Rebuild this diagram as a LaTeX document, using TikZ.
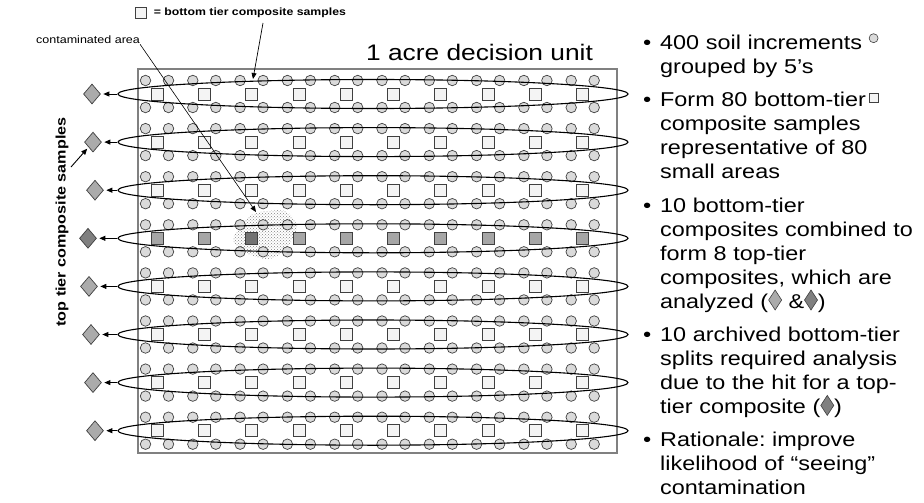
\documentclass[tikz,border=0pt]{standalone}
\usepackage{fontspec}
\setmainfont{Liberation Sans}[FakeStretch=1.17]
\usepackage{tikz}
\usetikzlibrary{arrows.meta,positioning,shapes.geometric,patterns}
\frenchspacing

\definecolor{incrfill}{HTML}{DADADA}
\definecolor{compfill}{HTML}{F4F4F4}
\definecolor{hitfill}{HTML}{A6A6A6}
\definecolor{hotfill}{HTML}{737373}
\definecolor{topfill}{HTML}{ABABAB}
\definecolor{topdark}{HTML}{808080}
\definecolor{edge}{HTML}{404040}

% small symbols used inside the bullet text
\newcommand{\incrsym}{\tikz[baseline=-11pt]\draw[edge,fill=incrfill,line width=0.6pt] (0pt,0pt) circle (4.5pt);}
\newcommand{\compsym}{\tikz[baseline=-8.5pt]\draw[edge,fill=compfill,line width=0.6pt] (-4.5pt,-4.5pt) rectangle (4.5pt,4.5pt);}
\newcommand{\topsym}[1]{\tikz[baseline=-8pt]\draw[edge,fill=#1,line width=0.6pt] (0pt,10pt) -- (6.5pt,0pt) -- (0pt,-10pt) -- (-6.5pt,0pt) -- cycle;}

\begin{document}
\begin{tikzpicture}[x=1pt, y=-1pt, >={Triangle[length=6pt,width=5pt]}]
\tikzstyle{incr}=[circle,draw=edge,fill=incrfill,line width=0.7pt,minimum size=10.5pt,inner sep=0pt]
\tikzstyle{comp}=[rectangle,draw=edge,line width=0.7pt,minimum size=12pt,inner sep=0pt]
\tikzstyle{tcomp}=[diamond,draw=edge,line width=0.7pt,minimum width=17pt,minimum height=20pt,inner sep=0pt]
\tikzstyle{band}=[ellipse,draw=black,line width=1.1pt,minimum width=510pt,minimum height=29pt,inner sep=0pt]
\tikzstyle{item}=[anchor=north west,inner sep=0pt,text width=280pt,align=left,font=\fontsize{20}{24}\selectfont]
\useasboundingbox (0,0) rectangle (924,503);

% decision unit
\draw[gray,line width=1.2pt] (138,69) rectangle (617,453);
\node[anchor=base,font=\fontsize{22.5}{26}\selectfont] (unit) at (479.5,60) {1 acre decision unit};

% contaminated area
\fill[pattern=crosshatch dots,pattern color=gray] plot[smooth cycle] coordinates {(256,213) (285,211) (297,228) (284,251) (268,259) (246,253) (233,240) (243,223)};

% increments and bottom-tier composites
\foreach \r in {0,...,7}{
  \foreach \c in {0,...,9}{
    \pgfmathsetmacro\xc{157+47.3*\c}
    \pgfmathsetmacro\yc{94+48.1*\r}
    \foreach \dx/\dy/\k in {-11.5/-13.5/1,11.5/-13.5/2,-11.5/13.5/3,11.5/13.5/4}
      \node[incr] (i-\r-\c-\k) at (\xc+\dx,\yc+\dy) {};
    \ifnum\r=3 \def\cf{hitfill}\ifnum\c=2 \def\cf{hotfill}\fi\else\def\cf{compfill}\fi
    \node[comp,fill=\cf] (c-\r-\c) at (\xc,\yc) {};
  }
}

% top-tier composites
\foreach \r/\tx in {0/92,1/93,2/95,3/88,4/89,5/91,6/93,7/95}{
  \pgfmathsetmacro\yc{94+48.1*\r}
  \ifnum\r=3 \def\tf{topdark}\else\def\tf{topfill}\fi
  \node[band] (b\r) at (373,\yc) {};
  \node[tcomp,fill=\tf] (t\r) at (\tx,\yc) {};
  \draw[->,line width=0.8pt,shorten >=2.5pt] (b\r.west) -- (t\r.east);
}

% legend and labels
\node[comp,fill=compfill,minimum size=10.5pt] (legsq) at (141,13) {};
\node[right=7pt of legsq,inner sep=0pt,font=\fontsize{10.5}{12}\bfseries\selectfont] (legtxt) {= bottom tier composite samples};
\coordinate (legtail) at (263,23);
\coordinate (legtip) at (253,79);
\draw[->,line width=0.7pt] (legtail) -- (legtip);

\node[anchor=base west,inner sep=0pt,font=\fontsize{10.7}{12}\selectfont] (cont) at (36,44) {contaminated area};
\coordinate (hit) at (256,212);
\draw[->,line width=0.6pt] (cont.south east) -- (hit);

\node[rotate=90,font=\fontsize{13.8}{16}\bfseries\selectfont] (toplab) at (62,222) {top tier composite samples};
\coordinate (toptail) at (71,167);
\draw[->,line width=0.9pt,shorten >=2pt] (toptail) -- (t1);

% bullet text
\node[item] (p1) at (660,32.2) {\strut\llap{\textbullet\hspace{9pt}}400 soil increments \incrsym\\grouped by 5’s\strut};
\node[item,below=9pt of p1] (p2) {\strut\llap{\textbullet\hspace{9pt}}Form 80 bottom-tier\,\compsym\\composite samples\\representative of 80\\small areas\strut};
\node[item,below=9pt of p2] (p3) {\strut\llap{\textbullet\hspace{9pt}}10 bottom-tier\\composites combined to\\form 8 top-tier\\composites, which are\\analyzed (\topsym{topfill} \&\topsym{topdark})\strut};
\node[item,below=9pt of p3] (p4) {\strut\llap{\textbullet\hspace{9pt}}10 archived bottom-tier\\splits required analysis\\due to the hit for a top-\\tier composite (\topsym{topdark})\strut};
\node[item,below=9pt of p4] (p5) {\strut\llap{\textbullet\hspace{9pt}}Rationale: improve\\likelihood of “seeing”\\contamination\strut};
\end{tikzpicture}
\end{document}
